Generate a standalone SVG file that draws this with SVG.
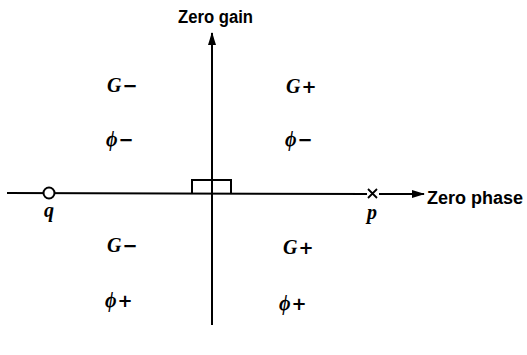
<svg xmlns="http://www.w3.org/2000/svg" width="527" height="355" viewBox="0 0 527 355">
<style>
.ax{stroke:#000;stroke-width:2;fill:none}
.lbl{font-family:"Liberation Sans",Arial,sans-serif;font-weight:bold;font-size:18px;fill:#000}
.m{font-family:"Liberation Serif","Times New Roman",serif;font-weight:bold;font-size:20px;fill:#000}
.i{font-style:italic}
.s{font-family:"DejaVu Sans",sans-serif;font-weight:bold;font-size:18px}
</style>
<defs>
<marker id="ah" markerWidth="13" markerHeight="8" refX="12" refY="4" orient="auto" markerUnits="userSpaceOnUse">
<path d="M0,0 L13,4 L0,8 Z" fill="#000"/>
</marker>
</defs>
<rect width="527" height="355" fill="#fff"/>
<g id="connectors">
<line class="ax" x1="7" y1="193" x2="367" y2="194"/>
<line class="ax" x1="212" y1="325" x2="212" y2="33" marker-end="url(#ah)"/>
<line class="ax" x1="379" y1="194" x2="424" y2="194" marker-end="url(#ah)"/>
</g>
<g id="zero-gain"><text class="lbl" x="178" y="23" textLength="75" lengthAdjust="spacingAndGlyphs">Zero gain</text></g>
<g id="zero-phase"><text class="lbl" x="427" y="204" textLength="96" lengthAdjust="spacingAndGlyphs">Zero phase</text></g>
<g id="q">
<circle cx="49" cy="193" r="5.5" fill="#fff" stroke="#000" stroke-width="2"/>
<text class="m i" x="49" y="217" text-anchor="middle">q</text>
</g>
<g id="p">
<path d="M368,189 L377,198 M377,189 L368,198" stroke="#000" stroke-width="1.8"/>
<text class="m i" x="372" y="219" text-anchor="middle">p</text>
</g>
<g id="box"><polyline class="ax" points="192,193 192,180 231,180 231,193"/></g>
<g id="q1"><text class="m" x="107" y="92"><tspan class="i">G</tspan><tspan class="s" dx="1">−</tspan></text><text class="m" x="106" y="146"><tspan class="i">ϕ</tspan><tspan class="s" dx="1">−</tspan></text></g>
<g id="q2"><text class="m" x="286" y="93"><tspan class="i">G</tspan><tspan class="s" dx="1">+</tspan></text><text class="m" x="285" y="146"><tspan class="i">ϕ</tspan><tspan class="s" dx="1">−</tspan></text></g>
<g id="q3"><text class="m" x="107" y="252"><tspan class="i">G</tspan><tspan class="s" dx="1">−</tspan></text><text class="m" x="105" y="307"><tspan class="i">ϕ</tspan><tspan class="s" dx="1">+</tspan></text></g>
<g id="q4"><text class="m" x="283" y="254"><tspan class="i">G</tspan><tspan class="s" dx="1">+</tspan></text><text class="m" x="279" y="310"><tspan class="i">ϕ</tspan><tspan class="s" dx="1">+</tspan></text></g>
</svg>
